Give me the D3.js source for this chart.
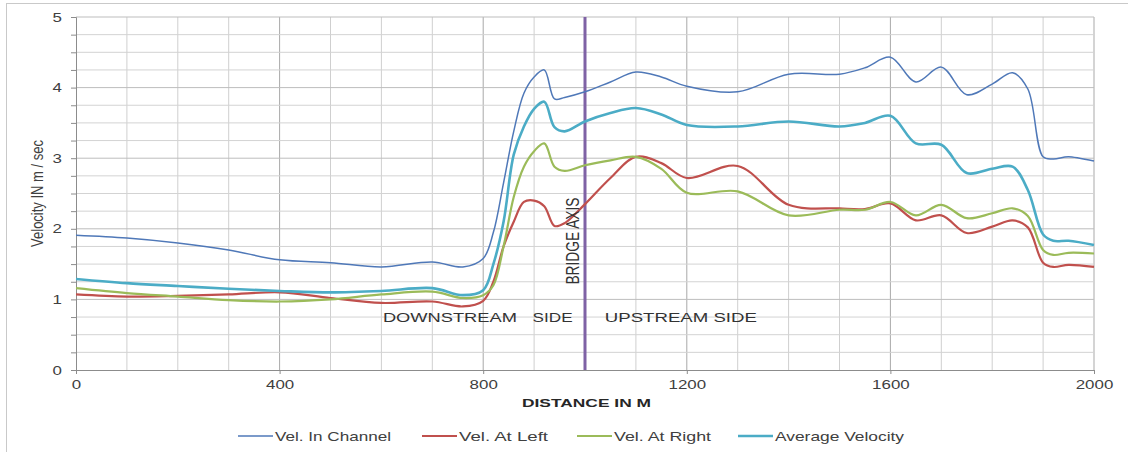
<!DOCTYPE html>
<html>
<head>
<meta charset="utf-8">
<script src="https://cdn.jsdelivr.net/npm/d3@7/dist/d3.min.js"></script>
<style>
body{margin:0;background:#fff}
text{font-family:"Liberation Sans",Arial,sans-serif}
</style>
</head>
<body>
<svg id="chart" width="1128" height="452"></svg>
<script>
// distance along the river (m)
const distance = [0,100,200,300,400,500,600,700,760,800,820,840,860,880,900,920,940,960,1000,1050,1100,1150,1200,1300,1400,1500,1550,1600,1650,1700,1750,1800,1840,1870,1900,1920,1950,2000]
// velocities (m/sec)
const velChannel = [1.91,1.87,1.80,1.70,1.56,1.52,1.46,1.53,1.46,1.58,1.95,2.65,3.38,3.92,4.15,4.25,3.84,3.86,3.94,4.08,4.22,4.15,4.02,3.94,4.19,4.19,4.28,4.43,4.08,4.29,3.90,4.05,4.21,3.98,3.02,2.99,3.02,2.96]
const velLeft    = [1.07,1.04,1.05,1.07,1.10,1.02,0.95,0.97,0.90,0.98,1.25,1.75,2.10,2.38,2.40,2.32,2.04,2.08,2.35,2.72,3.02,2.93,2.72,2.89,2.34,2.29,2.28,2.36,2.12,2.19,1.94,2.03,2.12,2.02,1.52,1.46,1.49,1.46]
const velRight   = [1.16,1.09,1.04,0.99,0.97,1.00,1.07,1.11,1.02,1.06,1.20,1.75,2.45,2.88,3.10,3.21,2.88,2.82,2.90,2.97,3.02,2.85,2.51,2.53,2.19,2.27,2.27,2.38,2.19,2.34,2.15,2.22,2.29,2.18,1.70,1.63,1.66,1.65]
const velAverage = [1.29,1.23,1.19,1.15,1.12,1.10,1.12,1.16,1.06,1.13,1.50,2.10,3.05,3.45,3.70,3.80,3.44,3.38,3.52,3.64,3.71,3.62,3.47,3.45,3.52,3.45,3.50,3.60,3.21,3.19,2.79,2.85,2.88,2.55,1.92,1.83,1.83,1.77]

const seriesNames = ["Vel. In Channel","Vel. At Left","Vel. At Right","Average Velocity"]
const xTicks = [0,400,800,1200,1600,2000]
const yTicks = [0,1,2,3,4,5]
const bridgeAt = 1000

const svg = d3.select("#chart")
const W = 1128, H = 452
const x = d3.scaleLinear().domain([0,2000]).range([76,1094])
const y = d3.scaleLinear().domain([0,5]).range([370,17])

// outer frame
svg.append("rect")
	.attr("x",6.5).attr("y",3.5)
	.attr("width",W+20).attr("height",H+20)
	.attr("fill","#fff").attr("stroke","#c9c9c9")

// grid
const g = svg.append("g")
d3.range(100,2001,100).forEach(v=>{
	g.append("line")
		.attr("x1",x(v)).attr("x2",x(v))
		.attr("y1",y(0)).attr("y2",y(5))
		.attr("stroke", v%400===0 ? "#a9a9a9" : "#cfcfcf")
		.attr("stroke-width",1)
})
d3.range(0.25,5.01,0.25).forEach(v=>{
	g.append("line")
		.attr("x1",x(0)).attr("x2",x(2000))
		.attr("y1",y(v)).attr("y2",y(v))
		.attr("stroke", v%1===0 ? "#bdbdbd" : "#d3d3d3")
		.attr("stroke-width",1)
})

// axes
const stretch = function(k){
	return function(){
		const w = this.getComputedTextLength()
		d3.select(this).attr("textLength", w*k).attr("lengthAdjust","spacingAndGlyphs")
	}
}
const yAxis = svg.append("g")
	.attr("transform",`translate(${x(0)},0)`)
	.call(d3.axisLeft(y)
		.tickValues(d3.range(0,5.01,0.25))
		.tickSize(5).tickPadding(9)
		.tickFormat(d=>yTicks.includes(d)?d:""))
yAxis.select(".domain").attr("stroke","#8c8c8c")
yAxis.selectAll(".tick line").attr("stroke","#8c8c8c")
yAxis.selectAll("text")
	.attr("font-size",13).attr("fill","#404040")
	.attr("font-family","Liberation Sans, Arial, sans-serif")
	.each(stretch(1.3))

const xAxis = svg.append("g")
	.attr("transform",`translate(0,${y(0)})`)
	.call(d3.axisBottom(x)
		.tickValues(xTicks)
		.tickFormat(d3.format("d"))
		.tickSize(4).tickPadding(6))
xAxis.select(".domain").attr("stroke","#8c8c8c")
xAxis.selectAll(".tick line").attr("stroke","#8c8c8c")
xAxis.selectAll("text")
	.attr("font-size",13).attr("fill","#404040")
	.attr("font-family","Liberation Sans, Arial, sans-serif")
	.each(stretch(1.3))

// bridge axis
svg.append("line")
	.attr("x1",x(bridgeAt)).attr("x2",x(bridgeAt))
	.attr("y1",y(5)).attr("y2",y(0))
	.attr("stroke","#7f62a5").attr("stroke-width",3)

// series
const colors = ["#4f78b8","#c0504d","#9bbb59","#4bacc6"]
const widths = [1.5,2.2,2.2,2.6]
const allSeries = [velChannel,velLeft,velRight,velAverage]
const line = d3.line()
	.x((d,i)=>x(distance[i]))
	.y(d=>y(d))
	.curve(d3.curveCatmullRom.alpha(0.5))
allSeries.forEach((s,i)=>{
	svg.append("path")
		.attr("d",line(s))
		.attr("fill","none")
		.attr("stroke",colors[i])
		.attr("stroke-width",widths[i])
		.attr("stroke-linejoin","round")
})

// annotations
const notes = [
	{t:"DOWNSTREAM", d:603, v:0.68, len:134},
	{t:"SIDE", d:897, v:0.68, len:40},
	{t:"UPSTREAM SIDE", d:1039, v:0.68, len:152}
]
notes.forEach(n=>{
	svg.append("text")
		.attr("x",x(n.d)).attr("y",y(n.v))
		.attr("font-size",13).attr("fill","#333")
		.attr("textLength",n.len).attr("lengthAdjust","spacingAndGlyphs")
		.text(n.t)
})
svg.append("text")
	.attr("transform",`translate(${x(bridgeAt)-6},${y(1.21)}) scale(1.3,1) rotate(-90)`)
	.attr("font-size",13.5).attr("fill","#333")
	.attr("textLength",87).attr("lengthAdjust","spacingAndGlyphs")
	.text("BRIDGE AXIS")

// axis titles
svg.append("text")
	.attr("x",522).attr("y",407)
	.attr("font-size",11).attr("font-weight","bold").attr("fill","#262626")
	.attr("textLength",129).attr("lengthAdjust","spacingAndGlyphs")
	.text("DISTANCE IN M")
svg.append("text")
	.attr("transform",`translate(43,${(y(0)+y(5))/2}) scale(1.3,1) rotate(-90)`)
	.attr("text-anchor","middle")
	.attr("font-size",13).attr("fill","#404040")
	.text("Velocity IN m / sec")

// legend
const legX = [238,422,577,738]
const legW = [116,89,97,129]
seriesNames.forEach((name,i)=>{
	const lg = svg.append("g").attr("transform",`translate(${legX[i]},436)`)
	lg.append("line")
		.attr("x1",0).attr("x2",35)
		.attr("stroke",colors[i]).attr("stroke-width",widths[i])
	lg.append("text")
		.attr("x",37).attr("y",5)
		.attr("font-size",13).attr("fill","#404040")
		.attr("textLength",legW[i]).attr("lengthAdjust","spacingAndGlyphs")
		.text(name)
})
</script>
</body>
</html>
